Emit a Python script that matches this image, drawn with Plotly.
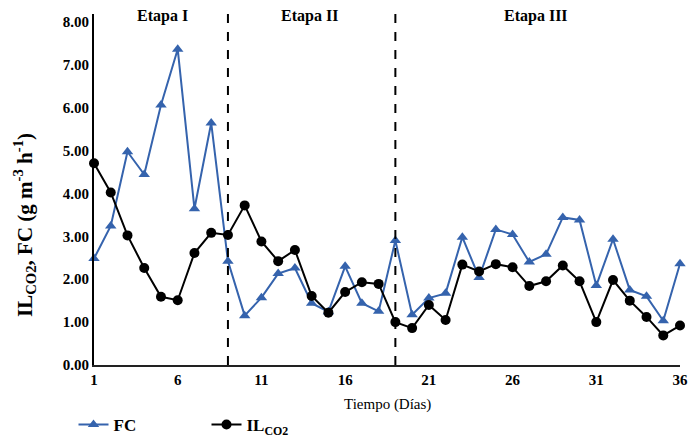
import plotly.graph_objects as go

days = list(range(1, 37))
fc = [2.48, 3.24, 4.97, 4.44, 6.06, 7.36, 3.64, 5.64, 2.42, 1.15, 1.57, 2.13, 2.26, 1.44, 1.24, 2.30,
      1.44, 1.25, 2.90, 1.17, 1.56, 1.67, 2.98, 2.04, 3.16, 3.04, 2.40, 2.58, 3.44, 3.38, 1.85, 2.93,
      1.75, 1.60, 1.03, 2.36]
il = [4.70, 4.02, 3.02, 2.26, 1.59, 1.51, 2.61, 3.08, 3.03, 3.72, 2.88, 2.42, 2.68, 1.61, 1.22, 1.70,
      1.93, 1.89, 1.00, 0.86, 1.40, 1.05, 2.34, 2.18, 2.35, 2.28, 1.84, 1.95, 2.32, 1.95, 1.00, 1.98,
      1.50, 1.12, 0.69, 0.92]
x_ticks = [1, 6, 11, 16, 21, 26, 31, 36]
y_ticks = [0, 1, 2, 3, 4, 5, 6, 7, 8]
y_labels = ["0.00", "1.00", "2.00", "3.00", "4.00", "5.00", "6.00", "7.00", "8.00"]
stage_bounds = [9, 19]
stage_names = ["Etapa I", "Etapa II", "Etapa III"]
stage_centers = [5.1, 13.9, 27.4]

SERIF = "Liberation Serif, Times New Roman, serif"
BLUE = "#3563AD"

L, R, T, B = 94, 20, 14, 72
W, H = 700, 437
PW, PH = W - L - R, H - T - B


def px_to_paper(px, py):
    return (px - L) / PW, (H - B - py) / PH


fig = go.Figure()
fig.add_trace(go.Scatter(x=days, y=fc, name="<b>FC</b>", mode="lines+markers",
                         line=dict(color=BLUE, width=2),
                         marker=dict(symbol="triangle-up", size=10, color=BLUE),
                         cliponaxis=False))
fig.add_trace(go.Scatter(x=days, y=il, name="<b>IL<sub>CO2</sub></b>", mode="lines+markers",
                         line=dict(color="black", width=2),
                         marker=dict(symbol="circle", size=10, color="black"),
                         cliponaxis=False))

for b in stage_bounds:
    fig.add_shape(type="line", x0=b, x1=b, y0=0, y1=1, xref="x", yref="y domain",
                  line=dict(color="black", width=2, dash="dash"))

for name, c in zip(stage_names, stage_centers):
    fig.add_annotation(x=c, y=1, xref="x", yref="y domain", text="<b>" + name + "</b>",
                       showarrow=False, yanchor="middle", yshift=-2,
                       font=dict(family=SERIF, size=16, color="black"))

# axis titles
xt = px_to_paper(387, 404)
fig.add_annotation(x=xt[0], y=xt[1], xref="paper", yref="paper",
                   text="Tiempo (Días)", showarrow=False, xanchor="center", yanchor="middle",
                   font=dict(family=SERIF, size=15, color="black"))
yt = px_to_paper(25, 225)
fig.add_annotation(x=yt[0], y=yt[1], xref="paper", yref="paper",
                   text="<b>IL<sub>CO2</sub>, FC (g m<sup>-3</sup> h<sup>-1</sup>)</b>",
                   showarrow=False, textangle=-90, xanchor="center", yanchor="middle",
                   font=dict(family=SERIF, size=21, color="black"))

fig.update_layout(
    width=W, height=H,
    margin=dict(l=L, r=R, t=T, b=B, autoexpand=False),
    plot_bgcolor="white", paper_bgcolor="white",
    showlegend=True,
    legend=dict(orientation="h", xref="container", yref="container", x=0.105, y=1 - 425 / 437,
                xanchor="left", yanchor="middle",
                font=dict(family=SERIF, size=17, color="black"), itemwidth=30,
                traceorder="normal", entrywidth=88, bgcolor="rgba(0,0,0,0)"),
    xaxis=dict(range=[1, 36], tickvals=x_ticks, ticktext=["<b>%d</b>" % t for t in x_ticks],
               showgrid=False, zeroline=False, showline=True, linecolor="#222", linewidth=2,
               ticks="", tickfont=dict(family=SERIF, size=15, color="black")),
    yaxis=dict(range=[0, 8.18], tickvals=y_ticks, ticktext=["<b>%s</b>" % s for s in y_labels],
               showgrid=False, zeroline=False, showline=True, linecolor="black", linewidth=2,
               ticks="", tickfont=dict(family=SERIF, size=15, color="black")),
)

fig.write_html("out.html")
